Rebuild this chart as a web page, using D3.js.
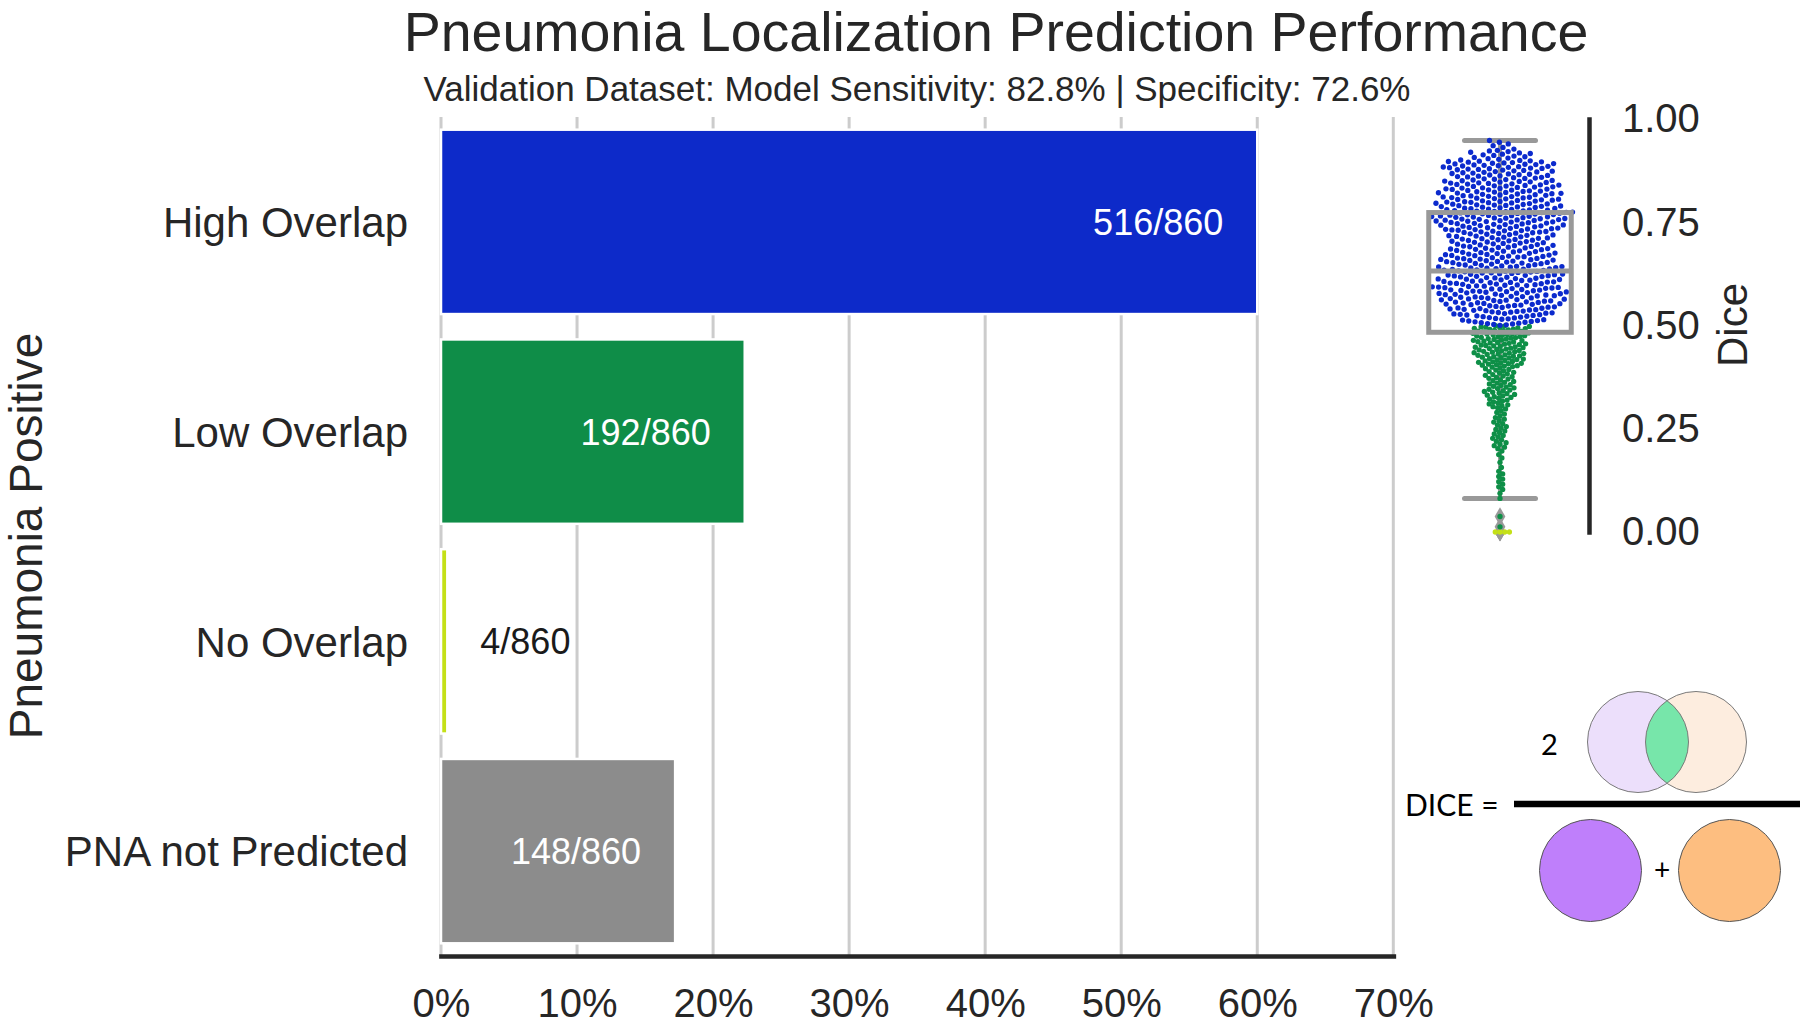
<!DOCTYPE html>
<html lang="en">
<head>
<meta charset="UTF-8">
<title>Pneumonia Localization Prediction Performance</title>
<style>
  body { margin: 0; background: #fff; }
  text { font-family: "Liberation Sans", Arial, sans-serif; fill: #262626; }
</style>
</head>
<body>
<script src="https://cdnjs.cloudflare.com/ajax/libs/d3/7.8.5/d3.min.js"></script>
<script>
// ---- data ----
var categories = ["High Overlap", "Low Overlap", "No Overlap", "PNA not Predicted"];
var counts = [516, 192, 4, 148];
var total = 860;
var barColors = ["#0d2ac9", "#0f8d48", "#c4e017", "#8c8c8c"];
var xTicks = [0, 0.1, 0.2, 0.3, 0.4, 0.5, 0.6, 0.7];

var diceBinWidth = 0.025;
var highBinStarts = [0.925, 0.90, 0.875, 0.85, 0.825, 0.80, 0.775, 0.75, 0.725,
                     0.70, 0.675, 0.65, 0.625, 0.60, 0.575, 0.55, 0.525, 0.50];
var highBinCounts = [6, 16, 30, 27, 31, 32, 34, 37, 33, 28, 28, 31, 32, 32, 34, 32, 29, 24];
var lowBinStarts = [0.475, 0.45, 0.425, 0.40, 0.375, 0.35, 0.325, 0.30, 0.275, 0.25,
                    0.225, 0.20, 0.175, 0.15, 0.125, 0.10, 0.075, 0.05, 0.025, 0.0];
var lowBinCounts = [27, 24, 23, 22, 14, 13, 14, 11, 6, 7, 7, 7, 3, 2, 4, 4, 2, 0, 1, 1];
var noOverlapDice = [0, 0, 0, 0];
var diceTicks = [0, 0.25, 0.5, 0.75, 1];

var width = 1800, height = 1026;
var svg = d3.select('body').append('svg').attr('width', width).attr('height', height);

// ---- main bar chart ----
var x = d3.scaleLinear().domain([0, 0.7]).range([441, 1393.3]);
var y = d3.scaleBand().domain(categories).range([117, 956]).paddingInner(0.121).paddingOuter(0.0605);

svg.append('g').selectAll('line').data(xTicks).enter().append('line')
    .attr('x1', function(d){ return x(d); })
    .attr('x2', function(d){ return x(d); })
    .attr('y1', 117).attr('y2', 956)
    .attr('stroke', '#cccccc').attr('stroke-width', 3);

svg.append('g').selectAll('rect').data(categories).enter().append('rect')
    .attr('x', x(0))
    .attr('y', function(d){ return y(d); })
    .attr('width', function(d, i){ return x(counts[i] / total) - x(0); })
    .attr('height', y.bandwidth())
    .attr('fill', function(d, i){ return barColors[i]; })
    .attr('stroke', '#fff').attr('stroke-width', 2.5);

// count labels: inside the bar if it is wide enough, else just after it
function inside(i){ return x(counts[i] / total) - x(0) > 60; }
svg.append('g').selectAll('text').data(categories).enter().append('text')
    .attr('x', function(d, i){
        var end = x(counts[i] / total);
        return inside(i) ? end - 34 : end + 33;
    })
    .attr('y', function(d){ return y(d) + y.bandwidth() / 2 + 13; })
    .attr('text-anchor', function(d, i){ return inside(i) ? 'end' : 'start'; })
    .style('fill', function(d, i){ return inside(i) ? '#fff' : '#1a1a1a'; })
    .attr('font-size', 36)
    .text(function(d, i){ return counts[i] + '/' + total; });

var xAxis = d3.axisBottom(x).tickValues(xTicks).tickFormat(d3.format('.0%'))
    .tickSizeInner(0).tickSizeOuter(0).tickPadding(32.5);
var gx = svg.append('g').attr('transform', 'translate(0,956)').call(xAxis);
gx.select('.domain').attr('stroke', '#262626').attr('stroke-width', 4.7).attr('stroke-linecap', 'square');
gx.selectAll('text').attr('font-size', 40).attr('font-family', null);

var yAxis = d3.axisLeft(y).tickSize(0).tickPadding(33);
var gy = svg.append('g').attr('transform', 'translate(441,0)').call(yAxis);
gy.select('.domain').remove();
gy.selectAll('text').attr('font-size', 42).attr('font-family', null).attr('dy', '0.36em');

svg.append('text')
    .attr('transform', 'translate(42,536) rotate(-90)')
    .attr('text-anchor', 'middle').attr('font-size', 46)
    .text('Pneumonia Positive');

svg.append('text').attr('x', 996).attr('y', 50.5).attr('text-anchor', 'middle')
    .attr('font-size', 55.5).text('Pneumonia Localization Prediction Performance');
svg.append('text').attr('x', 917).attr('y', 101).attr('text-anchor', 'middle')
    .attr('font-size', 35).text('Validation Dataset: Model Sensitivity: 82.8% | Specificity: 72.6%');

// ---- dice swarm + box ----
var yDice = d3.scaleLinear().domain([0, 1]).range([532, 119]);
var xDice = d3.scaleBand().domain(['Dice']).range([1410, 1590]);
var cx = xDice('Dice') + xDice.bandwidth() / 2;

// points of a bin are spread evenly across the bin so the swarm can lay them out
var highPts = [], lowPts = [];
highBinStarts.forEach(function(b, i){
    for (var j = 0; j < highBinCounts[i]; j++)
        highPts.push({ v: b + (j + 0.5) / highBinCounts[i] * diceBinWidth, c: 0 });
});
lowBinStarts.forEach(function(b, i){
    for (var j = 0; j < lowBinCounts[i]; j++)
        lowPts.push({ v: b + (j + 0.5) / lowBinCounts[i] * diceBinWidth, c: 1 });
});
noOverlapDice.forEach(function(v){ lowPts.push({ v: v, c: 2 }); });

// beeswarm: put each point at the free spot nearest the centre
function swarm(pts, dotD) {
    pts.sort(function(a, b){ return a.v - b.v; });
    var placed = [];
    pts.forEach(function(p){
        p.py = yDice(p.v);
        var near = placed.filter(function(q){ return Math.abs(q.py - p.py) < dotD; });
        var cands = [0];
        near.forEach(function(q){
            var dx = Math.sqrt(dotD * dotD - (q.py - p.py) * (q.py - p.py));
            cands.push(q.dx + dx, q.dx - dx);
        });
        cands.sort(function(a, b){ return Math.abs(a) - Math.abs(b); });
        for (var k = 0; k < cands.length; k++) {
            var c = cands[k];
            var ok = near.every(function(q){
                return (q.dx - c) * (q.dx - c) + (q.py - p.py) * (q.py - p.py) >= dotD * dotD - 0.01;
            });
            if (ok) { p.dx = c; break; }
        }
        placed.push(p);
    });
    return pts;
}
// the low-overlap group is drawn packed tighter, as in the source figure
swarm(highPts, 6.3);
swarm(lowPts, 4.7);
var pts = lowPts.concat(highPts);

var vals = pts.map(function(p){ return p.v; }).sort(d3.ascending);
var q1 = d3.quantile(vals, 0.25), med = d3.quantile(vals, 0.5), q3 = d3.quantile(vals, 0.75);
var iqr = q3 - q1;
var wLo = d3.min(vals.filter(function(v){ return v >= q1 - 1.5 * iqr; }));
var wHi = d3.max(vals.filter(function(v){ return v <= q3 + 1.5 * iqr; }));
var fliers = vals.filter(function(v){ return v < wLo || v > wHi; });

var box = svg.append('g');
box.append('line').attr('x1', cx).attr('x2', cx).attr('y1', yDice(q3)).attr('y2', yDice(wHi))
    .attr('stroke', '#999').attr('stroke-width', 4);
box.append('line').attr('x1', cx).attr('x2', cx).attr('y1', yDice(q1)).attr('y2', yDice(wLo))
    .attr('stroke', '#999').attr('stroke-width', 4);
box.selectAll('line.cap').data([wLo, wHi]).enter().append('line')
    .attr('x1', cx - 35.5).attr('x2', cx + 35.5)
    .attr('y1', function(d){ return yDice(d); }).attr('y2', function(d){ return yDice(d); })
    .attr('stroke', '#999').attr('stroke-width', 5).attr('stroke-linecap', 'round');
box.selectAll('path').data(fliers).enter().append('path')
    .attr('d', d3.symbol().type(d3.symbolDiamond).size(100))
    .attr('transform', function(d){ return 'translate(' + cx + ',' + yDice(d) + ')'; })
    .attr('fill', '#999');

var dotColors = ["#0b2acd", "#0e8f47", "#c4e017"];
svg.append('g').selectAll('circle').data(pts).enter().append('circle')
    .attr('cx', function(d){ return cx + d.dx; })
    .attr('cy', function(d){ return d.py; })
    .attr('r', 2.65)
    .attr('fill', function(d){ return dotColors[d.c]; });

svg.append('rect')
    .attr('x', cx - 71.25).attr('width', 142.5)
    .attr('y', yDice(q3)).attr('height', yDice(q1) - yDice(q3))
    .attr('fill', 'none').attr('stroke', '#999').attr('stroke-width', 5);
svg.append('line').attr('x1', cx - 71.25).attr('x2', cx + 71.25)
    .attr('y1', yDice(med)).attr('y2', yDice(med))
    .attr('stroke', '#999').attr('stroke-width', 5);

var diceAxis = d3.axisRight(yDice).tickValues(diceTicks).tickFormat(d3.format('.2f'))
    .tickSizeInner(0).tickSizeOuter(0).tickPadding(33);
var gd = svg.append('g').attr('transform', 'translate(1589,0)').call(diceAxis);
gd.select('.domain').attr('stroke', '#262626').attr('stroke-width', 4.5).attr('stroke-linecap', 'square');
gd.selectAll('text').attr('font-size', 40).attr('font-family', null);

svg.append('text')
    .attr('transform', 'translate(1747,325) rotate(-90)')
    .attr('text-anchor', 'middle').attr('font-size', 42)
    .text('Dice');

// ---- dice formula sketch ----
var f = svg.append('g');
var clip = svg.append('defs').append('clipPath').attr('id', 'leftc');
clip.append('circle').attr('cx', 1638).attr('cy', 742).attr('r', 50.5);
f.append('circle').attr('cx', 1638).attr('cy', 742).attr('r', 50.5).attr('fill', '#ecdffb');
f.append('circle').attr('cx', 1696).attr('cy', 742).attr('r', 50.5).attr('fill', '#fdeddf');
f.append('circle').attr('cx', 1696).attr('cy', 742).attr('r', 50.5).attr('fill', '#77e6aa')
    .attr('clip-path', 'url(#leftc)');
f.append('circle').attr('cx', 1638).attr('cy', 742).attr('r', 50.5)
    .attr('fill', 'none').attr('stroke', '#7a7a7a').attr('stroke-width', 1);
f.append('circle').attr('cx', 1696).attr('cy', 742).attr('r', 50.5)
    .attr('fill', 'none').attr('stroke', '#7a7a7a').attr('stroke-width', 1);
f.append('line').attr('x1', 1514).attr('x2', 1800).attr('y1', 804).attr('y2', 804)
    .attr('stroke', '#000').attr('stroke-width', 6.5);
f.append('circle').attr('cx', 1590.5).attr('cy', 870.5).attr('r', 51)
    .attr('fill', '#bf7ffb').attr('stroke', '#555').attr('stroke-width', 1);
f.append('circle').attr('cx', 1729.5).attr('cy', 870.5).attr('r', 51)
    .attr('fill', '#fdbe80').attr('stroke', '#555').attr('stroke-width', 1);
var formulaFont = 'Lato, "Open Sans", sans-serif';
f.append('text').attr('x', 1405).attr('y', 816).attr('font-size', 30)
    .style('fill', '#000').style('font-family', formulaFont).text('DICE =');
f.append('text').attr('x', 1541).attr('y', 755).attr('font-size', 29)
    .style('fill', '#000').style('font-family', formulaFont).text('2');
f.append('text').attr('x', 1662).attr('y', 880).attr('text-anchor', 'middle').attr('font-size', 28)
    .style('fill', '#000').style('font-family', formulaFont).text('+');
</script>
</body>
</html>
